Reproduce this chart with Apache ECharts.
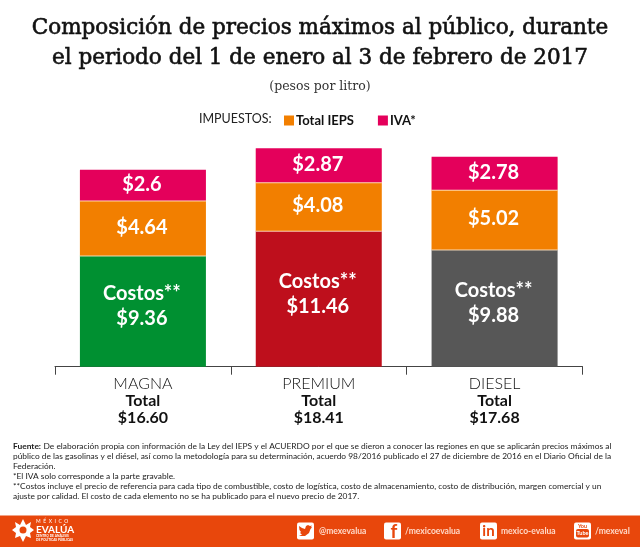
<!DOCTYPE html>
<html>
<head>
<meta charset="utf-8">
<style>html,body{margin:0;padding:0;background:#fff}#main{width:640px;height:547px}</style>
<script src="https://cdn.jsdelivr.net/npm/echarts@6/dist/echarts.min.js"></script>
</head>
<body>
<div id="main"></div>
<script>
var categories = ["MAGNA", "PREMIUM", "DIESEL"];
var totals = ["$16.60", "$18.41", "$17.68"];
var costos = [9.36, 11.46, 9.88];
var ieps = [4.64, 4.08, 5.02];
var iva = [2.6, 2.87, 2.78];
var costColors = ["#009031", "#be0f1c", "#575757"];

var titleLines = [
  "Composición de precios máximos al público, durante",
  "el periodo del 1 de enero al 3 de febrero de 2017"
];
var notes = [
  "De elaboración propia con información de la Ley del IEPS y el ACUERDO por el que se dieron a conocer las regiones en que se aplicarán precios máximos al",
  "público de las gasolinas y el diésel, así como la metodología para su determinación, acuerdo 98/2016 publicado el 27 de diciembre de 2016 en el Diario Oficial de la",
  "Federación.",
  "*El IVA solo corresponde a la parte gravable.",
  "**Costos incluye el precio de referencia para cada tipo de combustible, costo de logística, costo de almacenamiento, costo de distribución, margen comercial y un",
  "ajuste por calidad. El costo de cada elemento no se ha publicado para el nuevo precio de 2017."
];

var sans = "Lato";
var serif = "DejaVu Serif";
var orange = "#e8470c";
var chart = echarts.init(document.getElementById("main"), null, { renderer: "canvas" });

function sep(c) {
  return { color: c, shadowColor: "rgba(255,225,190,0.9)", shadowOffsetY: 1, shadowBlur: 0 };
}
function txt(x, y, s, size, color, extra) {
  var style = { x: x, y: y, text: s, fontSize: size, fontFamily: sans, fill: color, textAlign: "left", textVerticalAlign: "middle" };
  for (var k in extra) style[k] = extra[k];
  return { type: "text", silent: true, style: style };
}
function box(x) {
  return { type: "rect", silent: true, shape: { x: x, y: 522.5, width: 17, height: 17, r: 2 }, style: { fill: "#fff" } };
}

var headStyle = { fontFamily: serif, textAlign: "center", stroke: "#111", lineWidth: 0.6 };
var graphics = [
  txt(320, 28, titleLines[0], 21.5, "#111", headStyle),
  txt(320, 58, titleLines[1], 21.5, "#111", headStyle),
  txt(320, 87, "(pesos por litro)", 12.5, "#333", { fontFamily: serif, textAlign: "center" }),
  txt(199, 119, "IMPUESTOS:", 12.5, "#222"),
  { type: "rect", silent: true, shape: { x: 0, y: 515.5, width: 640, height: 31.5 }, style: { fill: orange } },
  txt(36, 521, "M  É  X  I  C  O", 5, "#fff"),
  txt(36, 529.5, "EVALÚA", 10, "#fff", { fontWeight: "bold" }),
  txt(36, 536, "CENTRO DE ANÁLISIS", 3.2, "#fff", { fontWeight: "bold" }),
  txt(36, 539.5, "DE POLÍTICAS PÚBLICAS", 3.2, "#fff", { fontWeight: "bold" }),
  { type: "polygon", silent: true, shape: { points: [[23, 519], [26, 525], [31, 522], [30, 527], [34, 530], [30, 533], [31, 538], [26, 536], [23, 542], [20, 536], [15, 538], [16, 533], [12, 530], [16, 527], [15, 522], [20, 525]] }, style: { fill: "#fff" } },
  { type: "circle", silent: true, shape: { cx: 23, cy: 530, r: 3.5 }, style: { fill: orange } },
  txt(319, 531, "@mexevalua", 8.5, "#ffd9c8", { fontWeight: "bold" }),
  txt(405, 531, "/mexicoevalua", 8.5, "#ffd9c8", { fontWeight: "bold" }),
  txt(501, 531, "mexico-evalua", 8.5, "#ffd9c8", { fontWeight: "bold" }),
  txt(595, 531, "/mexeval", 8.5, "#ffd9c8", { fontWeight: "bold" }),
  box(297),
  { type: "polygon", silent: true, shape: { points: [[299, 526], [302, 528], [305, 529], [306, 526], [308, 525], [310, 526], [312, 525.5], [311, 527], [312, 527.5], [310.5, 529], [309, 533], [305, 536], [299, 536], [302, 534.5], [300, 533], [301, 532], [299.5, 530]] }, style: { fill: orange } },
  box(384),
  txt(394, 532, "f", 19, orange, { textAlign: "center", fontWeight: "bold" }),
  box(480),
  txt(488.5, 531, "in", 15, orange, { textAlign: "center", fontWeight: "bold" }),
  box(574),
  txt(582.5, 526, "You", 5.5, orange, { textAlign: "center", fontWeight: "bold" }),
  { type: "rect", silent: true, shape: { x: 576, y: 529, width: 13, height: 8.5, r: 2 }, style: { fill: orange } },
  txt(582.5, 533.2, "Tube", 5.5, "#fff", { textAlign: "center", fontWeight: "bold" })
];
notes.forEach(function (line, i) {
  var rows = 446.5 + i * 10;
  if (i === 0) {
    graphics.push(txt(13, rows, "Fuente:", 8.4, "#222", { fontWeight: "bold" }));
    graphics.push(txt(43.5, rows, line, 8.4, "#222"));
  } else {
    graphics.push(txt(13, rows, line, 8.4, "#222"));
  }
});

function valueLabel(extra) {
  var l = { show: true, position: "inside", offset: [-1, -1], color: "#fff", fontSize: 20, fontWeight: "bold", fontFamily: sans, formatter: "${c}" };
  for (var k in extra) l[k] = extra[k];
  return l;
}

var option = {
  animation: false,
  backgroundColor: "#fff",
  textStyle: { fontFamily: sans },
  grid: { left: 55, right: 57.5, top: 129.3, height: 237.4 },
  legend: {
    left: 279,
    top: 109,
    itemWidth: 10,
    itemHeight: 10,
    itemGap: 24,
    icon: "rect",
    data: ["Total IEPS", "IVA*"],
    textStyle: { fontFamily: sans, fontWeight: "bold", fontSize: 13, color: "#111", padding: [0, 0, 0, -3] }
  },
  xAxis: {
    type: "category",
    data: categories,
    axisLine: { lineStyle: { color: "#444", width: 1 } },
    axisTick: { show: true, length: 8, lineStyle: { color: "#444", width: 1 } },
    axisLabel: {
      margin: 8,
      interval: 0,
      formatter: function (v, i) {
        return "{n|" + v + "}\n{t|Total}\n{t|" + totals[i] + "}";
      },
      rich: {
        n: { fontSize: 16, fontWeight: 300, color: "#111", lineHeight: 18, fontFamily: sans },
        t: { fontSize: 16, fontWeight: "bold", color: "#111", lineHeight: 17, fontFamily: sans }
      }
    }
  },
  yAxis: { type: "value", min: 0, max: 20, show: false },
  graphic: graphics,
  series: [
    {
      name: "Costos**",
      type: "bar",
      stack: "precio",
      barWidth: 126,
      data: costos.map(function (v, i) {
        return { value: v, itemStyle: { color: costColors[i] } };
      }),
      label: valueLabel({
        offset: [-1, -5],
        lineHeight: 25,
        formatter: function (p) { return "Costos**\n$" + p.value; }
      })
    },
    {
      name: "Total IEPS",
      type: "bar",
      stack: "precio",
      data: ieps,
      itemStyle: sep("#f27f00"),
      label: valueLabel({})
    },
    {
      name: "IVA*",
      type: "bar",
      stack: "precio",
      data: iva,
      itemStyle: sep("#e4005b"),
      label: valueLabel({})
    }
  ]
};
chart.setOption(option);
</script>
</body>
</html>
